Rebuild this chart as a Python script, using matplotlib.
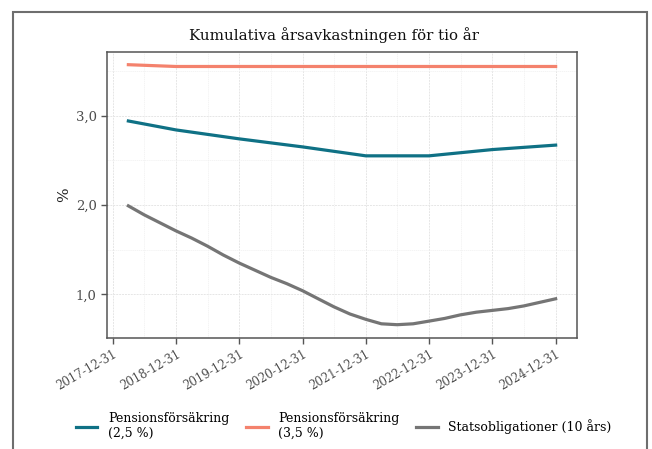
import matplotlib
matplotlib.use("Agg")
import matplotlib.pyplot as plt
import matplotlib.dates as mdates
import matplotlib.patches as mpatches
import numpy as np
import pandas as pd

# quarterly dates for the government bond series
gray_dates = pd.date_range("2018-03-31", "2024-12-31", freq="QE")
gray_vals = [1.99, 1.89, 1.80, 1.71, 1.63, 1.54, 1.44, 1.35,
             1.27, 1.19, 1.12, 1.04, 0.95, 0.86, 0.78, 0.72,
             0.67, 0.66, 0.67, 0.70, 0.73, 0.77, 0.80, 0.82,
             0.84, 0.87, 0.91, 0.95]

# pension series read at year ends
pen_dates = pd.to_datetime(["2018-03-31", "2018-12-31", "2019-12-31", "2020-12-31",
                            "2021-12-31", "2022-12-31", "2023-12-31", "2024-12-31"])
teal_vals = [2.94, 2.84, 2.74, 2.65, 2.55, 2.55, 2.62, 2.67]
orange_vals = [3.57, 3.55, 3.55, 3.55, 3.55, 3.55, 3.55, 3.55]

labels = ["Pensionsförsäkring\n(2,5 %)", "Pensionsförsäkring\n(3,5 %)", "Statsobligationer (10 års)"]
colors = ["#0f7185", "#f4826d", "#757575"]

tick_dates = pd.to_datetime([f"{y}-12-31" for y in range(2017, 2025)])
tick_labels = [d.strftime("%Y-%m-%d") for d in tick_dates]

plt.rcParams["font.family"] = ["DejaVu Serif"]

fig = plt.figure(figsize=(6.52, 4.49), dpi=100)
ax = fig.add_axes([107 / 652, 1 - 337.7 / 449, 470 / 652, 286 / 449])

ax.plot(pen_dates, teal_vals, color=colors[0], lw=2.3, label=labels[0])
ax.plot(pen_dates, orange_vals, color=colors[1], lw=2.3, label=labels[1])
ax.plot(gray_dates, gray_vals, color=colors[2], lw=2.3, label=labels[2])

# ggplot style 5% expansion
x0 = mdates.date2num(pd.Timestamp("2018-03-31"))
x1 = mdates.date2num(pd.Timestamp("2024-12-31"))
pad = (x1 - x0) * 0.05
ax.set_xlim(x0 - pad, x1 + pad)
ymin, ymax = min(gray_vals), max(orange_vals)
ypad = (ymax - ymin) * 0.05
ax.set_ylim(ymin - ypad, ymax + ypad)

ax.set_xticks(tick_dates)
ax.set_xticklabels(tick_labels, rotation=30, ha="right", rotation_mode="anchor",
                   fontsize=8.5, color="#4d4d4d")
ax.set_xticks(pd.to_datetime([f"{y}-07-01" for y in range(2018, 2025)]), minor=True)
ax.set_yticks([1.0, 2.0, 3.0])
ax.set_yticklabels(["1,0", "2,0", "3,0"], fontsize=9.5, color="#4d4d4d")
ax.set_yticks([1.5, 2.5, 3.5], minor=True)

ax.grid(which="major", color="#e6e6e6", lw=0.7, ls=(0, (2, 1)))
ax.grid(which="minor", color="#f0f0f0", lw=0.5, ls=(0, (2, 1)))
ax.set_axisbelow(True)
ax.tick_params(which="major", length=4, color="#555555", width=1)
ax.tick_params(which="minor", length=0)
for s in ax.spines.values():
    s.set_color("#555555")
    s.set_linewidth(1.1)

ax.set_ylabel("%", fontsize=11, color="#222222", labelpad=3)

fig.text(334 / 652, 1 - 35 / 449, "Kumulativa årsavkastningen för tio år",
         ha="center", va="center", fontsize=10.8, color="#111111", fontweight="medium")

fig.legend(loc="center", bbox_to_anchor=(0.527, 1 - 426 / 449), ncol=3, frameon=False,
           fontsize=9, handlelength=1.75, columnspacing=1.3, handletextpad=0.85)

frame = mpatches.Rectangle((13 / 652, -0.1), 634 / 652, 1.1 - 12 / 449,
                           transform=fig.transFigure, fill=False,
                           edgecolor="#6e6e6e", lw=1.5, clip_on=False)
fig.patches.append(frame)

fig.savefig("out.png", dpi=100)
